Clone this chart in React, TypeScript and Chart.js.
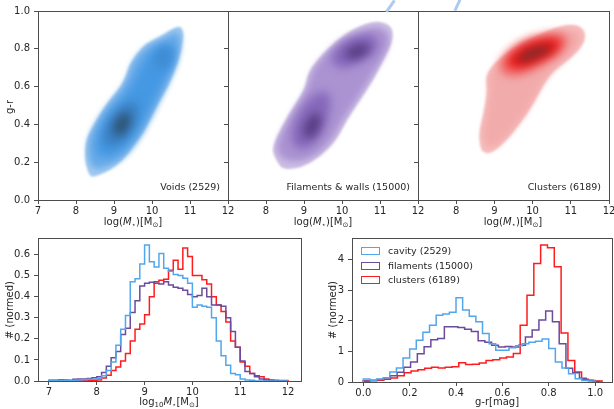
import React, { useEffect, useRef } from "react";
import { Chart, registerables } from "chart.js";
Chart.register(...registerables);

const FONT = "'DejaVu Sans', Verdana, sans-serif";
const INK = "#262626";
const SPINE = "#4d4d4d";
const W = 614;
const H = 409;

// ---------- top row: KDE panels (log M*, g-r) ----------
const MASS_TICKS = [7, 8, 9, 10, 11, 12];
const GR_TICKS = [0, 0.2, 0.4, 0.6, 0.8, 1.0];
const PANEL_LABELS = ["Voids (2529)", "Filaments & walls (15000)", "Clusters (6189)"];

type Pt = [number, number];

// Voids contours (logM, g-r)
const VOIDS_OUTER: Pt[] = [[8.36,0.127],[8.25,0.185],[8.23,0.264],[8.29,0.335],[8.49,0.405],[8.80,0.51],[9.10,0.58],[9.28,0.634],[9.41,0.72],[9.63,0.78],[9.85,0.83],[10.2,0.863],[10.55,0.907],[10.73,0.92],[10.82,0.90],[10.83,0.863],[10.77,0.79],[10.6,0.687],[10.42,0.6],[10.2,0.528],[9.98,0.44],[9.76,0.352],[9.5,0.282],[9.24,0.211],[8.89,0.158],[8.62,0.132],[8.45,0.123]];
const VOIDS_BODY: Pt[] = [[8.42,0.17],[8.31,0.23],[8.32,0.32],[8.53,0.41],[8.83,0.5],[9.13,0.57],[9.33,0.63],[9.47,0.72],[9.68,0.78],[9.92,0.82],[10.3,0.855],[10.6,0.895],[10.76,0.88],[10.75,0.79],[10.58,0.69],[10.38,0.6],[10.13,0.5],[9.88,0.4],[9.62,0.31],[9.3,0.23],[8.9,0.18],[8.58,0.16]];
const VOIDS_BAND: Pt[] = [[8.5,0.25],[8.55,0.34],[8.85,0.46],[9.2,0.53],[9.5,0.62],[9.75,0.73],[10.05,0.8],[10.4,0.83],[10.6,0.82],[10.6,0.74],[10.35,0.64],[10.05,0.52],[9.8,0.42],[9.5,0.32],[9.1,0.24],[8.75,0.22]];
const VOIDS_LOW_LOBE: Pt[] = [[8.7,0.3],[8.75,0.38],[9.0,0.46],[9.35,0.52],[9.65,0.52],[9.65,0.44],[9.4,0.34],[9.0,0.27]];
const VOIDS_HIGH_LOBE: Pt[] = [[10.0,0.74],[10.15,0.8],[10.45,0.82],[10.55,0.78],[10.45,0.7],[10.2,0.68]];
const VOIDS_CORE: Pt[] = [[8.95,0.36],[9.05,0.43],[9.3,0.47],[9.45,0.45],[9.4,0.38],[9.15,0.33]];

// Filaments & walls contours
const FIL_OUTER: Pt[] = [[8.37,0.176],[8.18,0.246],[8.19,0.29],[8.41,0.387],[8.72,0.493],[9.03,0.59],[9.11,0.678],[9.42,0.757],[9.86,0.845],[10.3,0.907],[10.82,0.947],[11.18,0.937],[11.35,0.898],[11.31,0.827],[11.09,0.739],[10.82,0.634],[10.47,0.528],[10.12,0.423],[9.86,0.317],[9.42,0.229],[8.98,0.176],[8.63,0.162],[8.46,0.167]];
const FIL_BODY: Pt[] = [[8.45,0.21],[8.28,0.26],[8.3,0.31],[8.5,0.39],[8.8,0.49],[9.1,0.59],[9.2,0.68],[9.5,0.76],[9.9,0.83],[10.35,0.88],[10.85,0.92],[11.15,0.9],[11.25,0.86],[11.2,0.8],[11.0,0.73],[10.7,0.63],[10.35,0.52],[10.0,0.42],[9.75,0.32],[9.35,0.24],[8.9,0.2]];
const FIL_LOW_LOBE: Pt[] = [[8.65,0.29],[8.7,0.4],[9.0,0.51],[9.4,0.58],[9.72,0.56],[9.68,0.45],[9.4,0.32],[9.0,0.26]];
const FIL_HIGH_LOBE: Pt[] = [[9.65,0.74],[9.9,0.82],[10.3,0.87],[10.85,0.88],[11.0,0.82],[10.7,0.75],[10.3,0.71],[9.95,0.69]];
const FIL_LOW_CORE: Pt[] = [[8.95,0.34],[9.05,0.42],[9.3,0.47],[9.48,0.44],[9.38,0.36],[9.15,0.32]];
const FIL_HIGH_CORE: Pt[] = [[10.0,0.77],[10.25,0.815],[10.6,0.835],[10.78,0.8],[10.55,0.76],[10.25,0.74]];

// Clusters contours
const CLU_OUTER: Pt[] = [[8.63,0.282],[8.59,0.352],[8.72,0.458],[8.82,0.581],[8.76,0.651],[8.98,0.722],[9.42,0.792],[10.12,0.871],[10.74,0.924],[11.18,0.93],[11.39,0.889],[11.35,0.827],[11.0,0.748],[10.56,0.687],[10.3,0.616],[10.03,0.51],[9.68,0.405],[9.25,0.3],[8.89,0.243],[8.68,0.255]];
const CLU_BODY: Pt[] = [[8.72,0.3],[8.7,0.36],[8.8,0.46],[8.88,0.58],[8.85,0.65],[9.05,0.72],[9.45,0.78],[10.1,0.85],[10.75,0.9],[11.15,0.9],[11.3,0.87],[11.2,0.81],[10.9,0.75],[10.5,0.68],[10.2,0.6],[9.95,0.5],[9.6,0.4],[9.2,0.31],[8.9,0.27]];
const CLU_HALO: Pt[] = [[9.1,0.69],[9.2,0.76],[9.65,0.84],[10.2,0.88],[10.75,0.89],[10.98,0.85],[10.78,0.78],[10.35,0.72],[9.8,0.66],[9.35,0.65]];
const CLU_RING: Pt[] = [[9.28,0.71],[9.42,0.77],[9.85,0.83],[10.4,0.86],[10.75,0.85],[10.68,0.79],[10.25,0.74],[9.7,0.69]];
const CLU_CORE: Pt[] = [[9.55,0.735],[9.75,0.785],[10.15,0.815],[10.5,0.82],[10.5,0.79],[10.15,0.755],[9.8,0.725]];

// ---------- bottom left: stellar-mass histograms ----------
const MASS_BIN_START = 7.0;
const MASS_BIN_WIDTH = 0.1;
const CAVITY_MASS = [0.003,0.003,0.004,0.003,0.002,0.004,0.005,0.006,0.008,0.008, 0.012,0.025,0.05,0.09,0.17,0.245,0.31,0.47,0.485,0.555, 0.645,0.565,0.54,0.605,0.535,0.52,0.505,0.5,0.487,0.463, 0.35,0.36,0.355,0.35,0.30,0.19,0.12,0.075,0.035,0.03, 0.01,0.005,0.003,0,0,0,0,0,0,0];
const FILAMENT_MASS = [0.003,0.004,0.006,0.005,0.004,0.008,0.01,0.01,0.012,0.015, 0.02,0.04,0.07,0.11,0.14,0.22,0.25,0.325,0.38,0.45, 0.463,0.468,0.463,0.46,0.47,0.455,0.445,0.44,0.43,0.41, 0.40,0.405,0.44,0.40,0.36,0.36,0.355,0.30,0.235,0.16, 0.095,0.045,0.035,0.02,0.01,0.005,0.002,0,0,0];
const CLUSTER_MASS = [0,0,0,0,0,0,0.001,0.001,0.002,0.003, 0.005,0.014,0.027,0.05,0.066,0.095,0.13,0.19,0.245,0.27, 0.314,0.40,0.47,0.478,0.483,0.525,0.573,0.53,0.63,0.59, 0.50,0.50,0.48,0.46,0.40,0.36,0.33,0.28,0.19,0.16, 0.09,0.07,0.035,0.025,0.02,0.01,0.005,0.003,0.002,0.002];
const MASS_HIST_XTICKS = [7, 8, 9, 10, 11, 12];
const MASS_HIST_YTICKS = [0, 0.1, 0.2, 0.3, 0.4, 0.5, 0.6];

// ---------- bottom right: g-r histograms (35 bins each, own range) ----------
const GR_BIN_START = 0;
const GR_RANGE_END = [1.0, 1.02, 1.03];
const GR_BINS = 35;
const CAVITY_GR = [0.10,0.05,0.10,0.14,0.33,0.46,0.78,1.08,1.36,1.62,1.85,2.18,2.22,2.28,2.75,2.35,2.15,1.97,1.58,1.25,1.04,1.04,1.12,1.18,1.25,1.30,1.33,1.40,1.09,0.65,0.46,0.27,0.11,0.05,0.03];
const FILAMENT_GR = [0.03,0.06,0.08,0.14,0.20,0.32,0.48,0.65,0.92,1.15,1.38,1.42,1.80,1.80,1.78,1.72,1.65,1.35,1.30,1.20,1.14,1.16,1.14,1.20,1.47,1.70,2.02,2.32,1.97,1.25,0.45,0.30,0.12,0.06,0.02];
const CLUSTER_GR = [0.03,0.04,0.06,0.09,0.13,0.20,0.30,0.36,0.40,0.45,0.48,0.46,0.48,0.50,0.63,0.57,0.58,0.62,0.70,0.73,0.78,0.82,0.93,1.85,2.83,3.87,4.47,4.38,3.76,1.60,0.70,0.33,0.09,0.05,0.03];
const GR_HIST_XTICKS = [0, 0.2, 0.4, 0.6, 0.8, 1.0];
const GR_HIST_YTICKS = [0, 1, 2, 3, 4];
const SERIES_NAMES = ["cavity (2529)", "filaments (15000)", "clusters (6189)"];
const SERIES_COLORS = ["#52a6ec", "#6a4b9c", "#ff1c1c"];

// ---------- helpers ----------
type Layer = { pts: Pt[]; color: string; blur: number };

function kdePlugin(layers: Layer[]) {
  return {
    id: "kde",
    beforeDatasetsDraw(chart: any) {
      const { ctx, chartArea: a } = chart;
      const xs = chart.scales.x;
      const ys = chart.scales.y;
      ctx.save();
      ctx.beginPath();
      ctx.rect(a.left, a.top, a.right - a.left, a.bottom - a.top);
      ctx.clip();
      for (const L of layers) {
        const p = L.pts.map(([u, v]) => [xs.getPixelForValue(u), ys.getPixelForValue(v)]);
        const n = p.length;
        const mid = (i: number, j: number) => [(p[i][0] + p[j][0]) / 2, (p[i][1] + p[j][1]) / 2];
        ctx.filter = L.blur > 0 ? `blur(${L.blur}px)` : "none";
        ctx.fillStyle = L.color;
        ctx.beginPath();
        const m0 = mid(n - 1, 0);
        ctx.moveTo(m0[0], m0[1]);
        for (let i = 0; i < n; i++) {
          const m = mid(i, (i + 1) % n);
          ctx.quadraticCurveTo(p[i][0], p[i][1], m[0], m[1]);
        }
        ctx.closePath();
        ctx.fill();
      }
      ctx.restore();
    },
  };
}

const framePlugin = {
  id: "frame",
  afterDraw(chart: any) {
    const { ctx, chartArea: a } = chart;
    ctx.save();
    ctx.strokeStyle = SPINE;
    ctx.lineWidth = 1;
    ctx.strokeRect(Math.round(a.left) + 0.5, Math.round(a.top) + 0.5, Math.round(a.right - a.left), Math.round(a.bottom - a.top));
    ctx.restore();
  },
};

type Area = { l: number; r: number; t: number; b: number };
const YW = 30;
const XH = 22;

function axis(min: number, max: number, ticks: number[], fmt: (v: number) => string, isX: boolean) {
  return {
    type: "linear",
    min,
    max,
    afterBuildTicks: (s: any) => {
      s.ticks = ticks.map((v) => ({ value: v }));
    },
    afterFit: (s: any) => {
      if (isX) s.height = XH;
      else s.width = YW;
      s.paddingLeft = 0;
      s.paddingRight = 0;
      s.paddingTop = 0;
      s.paddingBottom = 0;
    },
    ticks: {
      callback: (v: number) => fmt(v),
      font: { family: FONT, size: 10 },
      color: INK,
      padding: isX ? 1 : 4,
      maxRotation: 0,
      autoSkip: false,
    },
    grid: { display: true, drawOnChartArea: false, drawTicks: true, tickLength: 4, color: SPINE, lineWidth: 1 },
    border: { display: false },
  };
}

function baseOptions(area: Area, x: any, y: any) {
  return {
    responsive: false,
    animation: false,
    devicePixelRatio: 1,
    events: [],
    layout: { padding: { left: area.l - YW, top: area.t, right: W - area.r, bottom: H - area.b - XH } },
    plugins: { legend: { display: false }, tooltip: { enabled: false }, title: { display: false } },
    scales: { x, y },
  };
}

const fix1 = (v: number) => v.toFixed(1);
const int0 = (v: number) => String(Math.round(v));

function kdeConfig(area: Area, layers: Layer[], showY: boolean, show7: boolean) {
  return {
    type: "scatter",
    data: { datasets: [] },
    options: baseOptions(
      area,
      axis(7, 12, MASS_TICKS, (v) => (v === 7 && !show7 ? "" : int0(v)), true),
      axis(0, 1, GR_TICKS, (v) => (showY ? fix1(v) : ""), false)
    ),
    plugins: [kdePlugin(layers), framePlugin],
  };
}

function stepPoints(start: number, width: number, values: number[]) {
  const pts = [{ x: start, y: 0 }];
  values.forEach((v, i) => pts.push({ x: start + i * width, y: v }));
  pts.push({ x: start + values.length * width, y: 0 });
  return pts;
}

function histDataset(label: string, color: string, pts: { x: number; y: number }[]) {
  return {
    label,
    data: pts,
    stepped: "before",
    borderColor: color,
    backgroundColor: "transparent",
    borderWidth: 1.5,
    pointRadius: 0,
    fill: false,
    tension: 0,
  };
}

const CONFIGS = [
  () =>
    kdeConfig({ l: 38, r: 228, t: 11, b: 200 }, [
      { pts: VOIDS_OUTER, color: "#a2c9f0", blur: 0.8 },
      { pts: VOIDS_BODY, color: "#68abea", blur: 3 },
      { pts: VOIDS_BAND, color: "#4598e3", blur: 4 },
      { pts: VOIDS_LOW_LOBE, color: "#3b80c2", blur: 5 },
      { pts: VOIDS_HIGH_LOBE, color: "#3f8cd3", blur: 4 },
      { pts: VOIDS_CORE, color: "#2e5374", blur: 5 },
    ], true, true),
  () =>
    kdeConfig({ l: 228, r: 418, t: 11, b: 200 }, [
      { pts: FIL_OUTER, color: "#cbbde3", blur: 0.8 },
      { pts: FIL_BODY, color: "#ab93d2", blur: 3 },
      { pts: FIL_LOW_LOBE, color: "#8668bb", blur: 5 },
      { pts: FIL_HIGH_LOBE, color: "#8668bb", blur: 5 },
      { pts: FIL_LOW_CORE, color: "#583c82", blur: 5 },
      { pts: FIL_HIGH_CORE, color: "#583c82", blur: 5 },
    ], false, false),
  () =>
    kdeConfig({ l: 418, r: 609, t: 11, b: 200 }, [
      { pts: CLU_OUTER, color: "#f6bdbd", blur: 0.8 },
      { pts: CLU_BODY, color: "#f2abab", blur: 3 },
      { pts: CLU_HALO, color: "#f06a6a", blur: 4 },
      { pts: CLU_RING, color: "#ea1a1a", blur: 4 },
      { pts: CLU_CORE, color: "#8a2a2a", blur: 4 },
    ], false, false),
  () => ({
    type: "line",
    data: {
      datasets: [
        histDataset(SERIES_NAMES[0], SERIES_COLORS[0], stepPoints(MASS_BIN_START, MASS_BIN_WIDTH, CAVITY_MASS)),
        histDataset(SERIES_NAMES[1], SERIES_COLORS[1], stepPoints(MASS_BIN_START, MASS_BIN_WIDTH, FILAMENT_MASS)),
        histDataset(SERIES_NAMES[2], SERIES_COLORS[2], stepPoints(MASS_BIN_START, MASS_BIN_WIDTH, CLUSTER_MASS)),
      ],
    },
    options: baseOptions(
      { l: 38, r: 301, t: 238, b: 381 },
      axis(6.77, 12.272, MASS_HIST_XTICKS, int0, true),
      axis(0, 0.678, MASS_HIST_YTICKS, fix1, false)
    ),
    plugins: [framePlugin],
  }),
  () => ({
    type: "line",
    data: {
      datasets: [
        histDataset(SERIES_NAMES[0], SERIES_COLORS[0], stepPoints(GR_BIN_START, GR_RANGE_END[0] / GR_BINS, CAVITY_GR)),
        histDataset(SERIES_NAMES[1], SERIES_COLORS[1], stepPoints(GR_BIN_START, GR_RANGE_END[1] / GR_BINS, FILAMENT_GR)),
        histDataset(SERIES_NAMES[2], SERIES_COLORS[2], stepPoints(GR_BIN_START, GR_RANGE_END[2] / GR_BINS, CLUSTER_GR)),
      ],
    },
    options: baseOptions(
      { l: 352, r: 612, t: 238, b: 382 },
      axis(-0.0488, 1.073, GR_HIST_XTICKS, fix1, true),
      axis(0, 4.7, GR_HIST_YTICKS, int0, false)
    ),
    plugins: [framePlugin],
  }),
];

const subStyle: React.CSSProperties = { fontSize: "7px", verticalAlign: "-2px", lineHeight: 0 };

function Txt(props: { x: number; y: number; rot?: boolean; size?: number; anchor?: "c" | "r" | "l"; children: React.ReactNode }) {
  const { x, y, rot, size = 10, anchor = "c", children } = props;
  const tx = anchor === "c" ? "-50%" : anchor === "r" ? "-100%" : "0";
  return (
    <div
      style={{
        position: "absolute",
        left: x,
        top: y,
        transform: `translate(${tx}, -50%)${rot ? " rotate(-90deg)" : ""}`,
        transformOrigin: rot ? "50% 50%" : undefined,
        fontFamily: FONT,
        fontSize: size,
        color: INK,
        whiteSpace: "nowrap",
        lineHeight: 1.2,
      }}
    >
      {children}
    </div>
  );
}

const MassTitle = () => (
  <span>
    log(<i>M</i>
    <sub style={subStyle}>⋆</sub>)[M<sub style={subStyle}>⊙</sub>]
  </span>
);

export default function App() {
  const refs = useRef<(HTMLCanvasElement | null)[]>([]);
  useEffect(() => {
    const charts = CONFIGS.map((make, i) => new Chart(refs.current[i] as HTMLCanvasElement, make() as any));
    return () => charts.forEach((c) => c.destroy());
  }, []);

  return (
    <div style={{ position: "absolute", left: 0, top: 0, width: W, height: H, background: "#fff", overflow: "hidden" }}>
      {CONFIGS.map((_, i) => (
        <canvas
          key={i}
          ref={(el) => {
            refs.current[i] = el;
          }}
          width={W}
          height={H}
          style={{ position: "absolute", left: 0, top: 0, width: W, height: H }}
        />
      ))}
      {/* slide remnants at the top edge */}
      <div style={{ position: "absolute", left: 389, top: -1, width: 2.5, height: 14, background: "#aecbee", transform: "rotate(35deg)" }} />
      <div style={{ position: "absolute", left: 456, top: -1, width: 2.5, height: 12, background: "#aecbee", transform: "rotate(25deg)" }} />

      {/* top row texts */}
      <Txt x={10} y={107} rot>g-r</Txt>
      <Txt x={133} y={222}><MassTitle /></Txt>
      <Txt x={323} y={222}><MassTitle /></Txt>
      <Txt x={513} y={222}><MassTitle /></Txt>
      <Txt x={220} y={187} anchor="r" size={9.5}>{PANEL_LABELS[0]}</Txt>
      <Txt x={410} y={187} anchor="r" size={9.5}>{PANEL_LABELS[1]}</Txt>
      <Txt x={601} y={187} anchor="r" size={9.5}>{PANEL_LABELS[2]}</Txt>

      {/* bottom left texts */}
      <Txt x={10} y={310} rot># (normed)</Txt>
      <Txt x={169} y={402}>
        <span>
          log<sub style={subStyle}>10</sub>
          <i>M</i>
          <sub style={subStyle}>⋆</sub>[M<sub style={subStyle}>⊙</sub>]
        </span>
      </Txt>

      {/* bottom right texts */}
      <Txt x={333} y={310} rot># (normed)</Txt>
      <Txt x={497} y={402}>g-r[mag]</Txt>
      {SERIES_NAMES.map((name, i) => (
        <React.Fragment key={name}>
          <div
            style={{
              position: "absolute",
              left: 361,
              top: 247 + i * 14.5,
              width: 19,
              height: 8,
              boxSizing: "border-box",
              border: `1.5px solid ${SERIES_COLORS[i]}`,
            }}
          />
          <Txt x={388} y={251 + i * 14.5} anchor="l" size={9.5}>{name}</Txt>
        </React.Fragment>
      ))}
    </div>
  );
}
